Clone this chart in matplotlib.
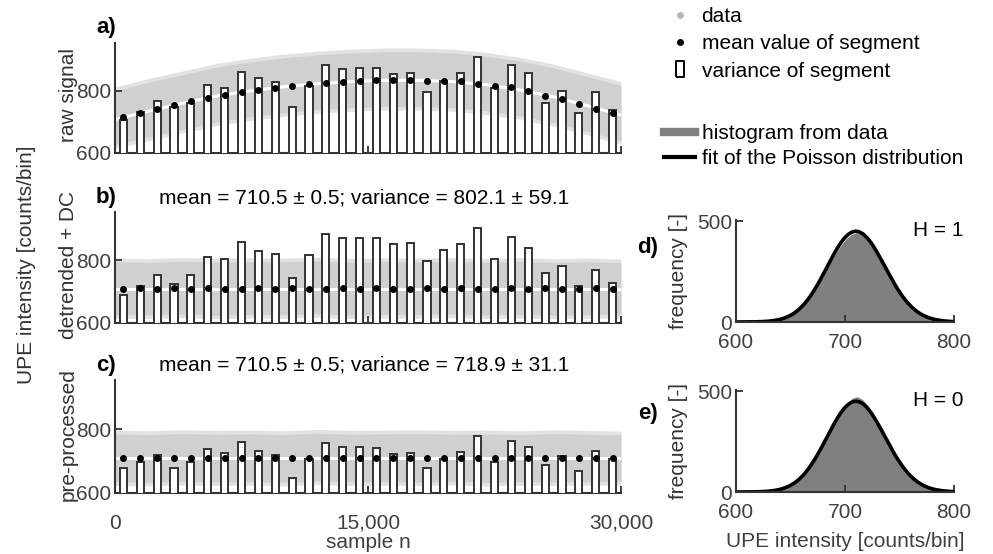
import math
import numpy as np
import matplotlib
matplotlib.use("Agg")
import matplotlib.pyplot as plt
from matplotlib.lines import Line2D

plt.rcParams['font.family'] = ['Liberation Sans', 'DejaVu Sans']
plt.rcParams['font.size'] = 15

# ---- data ----
n_samples = 30000
seg_len = 1000

# segment means / variances (30 segments of 1000 samples)
raw_mean = [716, 729, 741, 754, 768, 777, 787, 797, 803, 810, 816, 822, 825, 830, 831,
            834, 835, 835, 833, 833, 831, 822, 816, 811, 798, 785, 773, 758, 743, 728]
raw_var = [705, 732, 767, 748, 760, 819, 809, 862, 841, 827, 748, 816, 883, 870, 872,
           872, 854, 857, 797, 832, 857, 908, 809, 883, 859, 760, 801, 730, 797, 739]
det_mean = [710, 711, 710, 711, 710, 711, 710, 710, 711, 710, 711, 710, 710, 711, 710,
            711, 710, 710, 711, 710, 711, 710, 710, 711, 710, 711, 710, 710, 711, 710]
det_var = [688, 717, 752, 725, 754, 811, 804, 857, 830, 819, 745, 816, 883, 871, 871,
           871, 852, 856, 798, 832, 853, 903, 803, 875, 838, 761, 782, 718, 768, 727]
pre_mean = [710, 710, 711, 710, 711, 710, 710, 711, 710, 711, 710, 710, 711, 710, 710,
            711, 710, 711, 710, 710, 711, 710, 711, 710, 710, 711, 710, 711, 710, 710]
pre_var = [678, 696, 720, 679, 696, 739, 724, 761, 732, 718, 648, 705, 757, 745, 744,
           741, 723, 726, 679, 707, 730, 779, 696, 764, 745, 687, 717, 668, 733, 707]

# envelope of the raw data cloud (sampled every 2000 samples)
band_x = [0, 2000, 4000, 6000, 8000, 10000, 12000, 14000, 16000, 18000, 20000,
          22000, 24000, 26000, 28000, 30000]
raw_trend = [708, 735, 760, 783, 800, 813, 823, 830, 834, 834, 830, 820, 803, 781, 752, 722]
raw_upper = [800, 828, 852, 876, 893, 906, 916, 922, 926, 926, 922, 912, 896, 874, 846, 818]
raw_lower = [628, 652, 676, 700, 716, 730, 740, 746, 750, 750, 746, 736, 720, 698, 670, 640]
det_trend = [710] * 16
det_upper = [795, 793, 797, 794, 796, 795, 798, 794, 796, 795, 797, 794, 796, 793, 795, 792]
det_lower = [628, 626, 629, 625, 628, 627, 630, 626, 628, 627, 629, 626, 628, 625, 627, 628]
pre_trend = [710] * 16
pre_upper = [785, 783, 786, 784, 785, 783, 787, 784, 785, 786, 784, 785, 783, 786, 784, 782]
pre_lower = [636, 634, 637, 635, 636, 634, 638, 635, 636, 635, 637, 634, 636, 635, 636, 637]

# histograms (counts per 1-count bin), bin centres 601..796 step 5
hist_centers = list(range(601, 800, 5))
hist_det = [0, 0, 0, 1, 2, 3, 6, 10, 16, 26, 39, 57, 82, 113, 150, 194, 241, 290, 336,
            378, 412, 434, 442, 436, 414, 380, 338, 292, 243, 195, 152, 114, 82, 58,
            40, 26, 16, 10, 6, 3]
hist_pre = [0, 0, 0, 1, 1, 3, 5, 9, 15, 24, 37, 55, 80, 112, 152, 196, 244, 296, 344,
            392, 430, 462, 472, 458, 428, 388, 340, 290, 238, 190, 146, 108, 76, 52,
            35, 22, 13, 8, 4, 2]
poisson_lambda = 710.5

panels = [
    ("a)", "raw signal", raw_mean, raw_var, raw_trend, raw_upper, raw_lower, None),
    ("b)", "detrended + DC", det_mean, det_var, det_trend, det_upper, det_lower,
     "mean = 710.5 ± 0.5; variance = 802.1 ± 59.1"),
    ("c)", "pre-processed", pre_mean, pre_var, pre_trend, pre_upper, pre_lower,
     "mean = 710.5 ± 0.5; variance = 718.9 ± 31.1"),
]

W, H = 993, 554
INK = '#333333'
GREY = '#d0d0d0'


def rect(left, top, right, bottom):
    return [left / W, 1 - bottom / H, (right - left) / W, (bottom - top) / H]


def fpos(x, y):
    return x / W, 1 - y / H


def style(ax):
    for s in ['top', 'right']:
        ax.spines[s].set_visible(False)
    for s in ['left', 'bottom']:
        ax.spines[s].set_color(INK)
        ax.spines[s].set_linewidth(1.5)
    ax.tick_params(direction='in', length=5, width=1.3, colors=INK,
                   labelcolor='#404040', labelsize=15, pad=3)


fig = plt.figure(figsize=(9.93, 5.54), dpi=100)

seg_x = np.arange(len(raw_var)) * seg_len + seg_len / 2
boxes = [(43, 153), (212, 323), (380, 493)]
label_y = [28, 198, 365]
side_y = [95, 265, 435]

for i, (tag, name, means, var, trend, up, lo, txt) in enumerate(panels):
    top, bot = boxes[i]
    ax = fig.add_axes(rect(115, top, 621, bot))
    up = np.array(up)
    lo = np.array(lo)
    ax.fill_between(band_x, lo - 12, up + 12, color='#e2e2e2', lw=0, zorder=1)
    ax.fill_between(band_x, lo, up, color=GREY, lw=0, zorder=1)
    ax.plot(band_x, trend, color='white', lw=2.2, zorder=2)
    ax.bar(seg_x, var, width=420, color='white', edgecolor=INK, linewidth=1.4, zorder=3)
    ax.plot(seg_x, means, 'o', color='black', ms=4, zorder=4)
    ax.set_xlim(0, n_samples)
    ax.set_ylim(600, 954)
    ax.set_yticks([600, 800])
    ax.set_xticks([0, 15000, 30000])
    style(ax)
    if i < 2:
        ax.set_xticklabels([])
    else:
        ax.set_xticklabels(['0', '15,000', '30,000'])
        ax.tick_params(axis='x', pad=15)
        ax.set_xlabel('sample n', color='#404040', labelpad=0)
    fig.text(*fpos(106, label_y[i]), tag, fontweight='bold', fontsize=16,
             ha='center', va='center')
    fig.text(*fpos(68, side_y[i]), name, rotation=90, ha='center', va='center',
             color=INK)
    if txt:
        fig.text(*fpos(364, label_y[i]), txt, ha='center', va='center', color='black')

fig.text(*fpos(27, 265), 'UPE intensity [counts/bin]', rotation=90,
         ha='center', va='center', color=INK)

# Poisson fit
k = np.arange(600, 801)
fit = np.array([n_samples * math.exp(kk * math.log(poisson_lambda) - poisson_lambda
                                     - math.lgamma(kk + 1)) for kk in k])

hists = [("d)", "H = 1", hist_det, (220, 322), 248), ("e)", "H = 0", hist_pre, (390, 492), 414)]
for j, (tag, htxt, counts, (top, bot), tag_y) in enumerate(hists):
    ax = fig.add_axes(rect(736, top, 954, bot))
    ax.fill_between(hist_centers, counts, color='#808080', lw=0)
    ax.plot(k, fit, color='black', lw=2.6)
    ax.set_xlim(600, 800)
    ax.set_ylim(0, 505)
    ax.set_xticks([600, 700, 800])
    ax.set_yticks([0, 500])
    style(ax)
    ax.tick_params(axis='x', pad=8)
    ax.set_ylabel('frequency [-]', color=INK, labelpad=6)
    ax.text(0.927, 0.9, htxt, transform=ax.transAxes, ha='center', va='center')
    fig.text(*fpos(648, tag_y), tag, fontweight='bold', fontsize=16,
             ha='center', va='center')
    if j == 1:
        ax.set_xlabel('UPE intensity [counts/bin]', color='#404040', labelpad=7)

# legends
h1 = [Line2D([], [], marker='o', ls='none', color='#b8b8b8', ms=4),
      Line2D([], [], marker='o', ls='none', color='black', ms=4),
      Line2D([], [], marker=[(-0.5, -1), (0.5, -1), (0.5, 1), (-0.5, 1), (-0.5, -1)],
             ls='none', mfc='white', mec='black', mew=1.4, ms=11)]
fig.legend(h1, ['data', 'mean value of segment', 'variance of segment'],
           loc='upper left', bbox_to_anchor=fpos(664, 7), frameon=False,
           handlelength=1.5, handletextpad=0.3, labelspacing=0.4,
           borderaxespad=0, borderpad=0, fontsize=15)
h2 = [Line2D([], [], color='#808080', lw=6), Line2D([], [], color='black', lw=3)]
fig.legend(h2, ['histogram from data', 'fit of the Poisson distribution'],
           loc='upper left', bbox_to_anchor=fpos(664, 124), frameon=False,
           handlelength=1.5, handletextpad=0.3, labelspacing=0.28,
           borderaxespad=0, borderpad=0, fontsize=15)

fig.savefig('out.png', dpi=100)
